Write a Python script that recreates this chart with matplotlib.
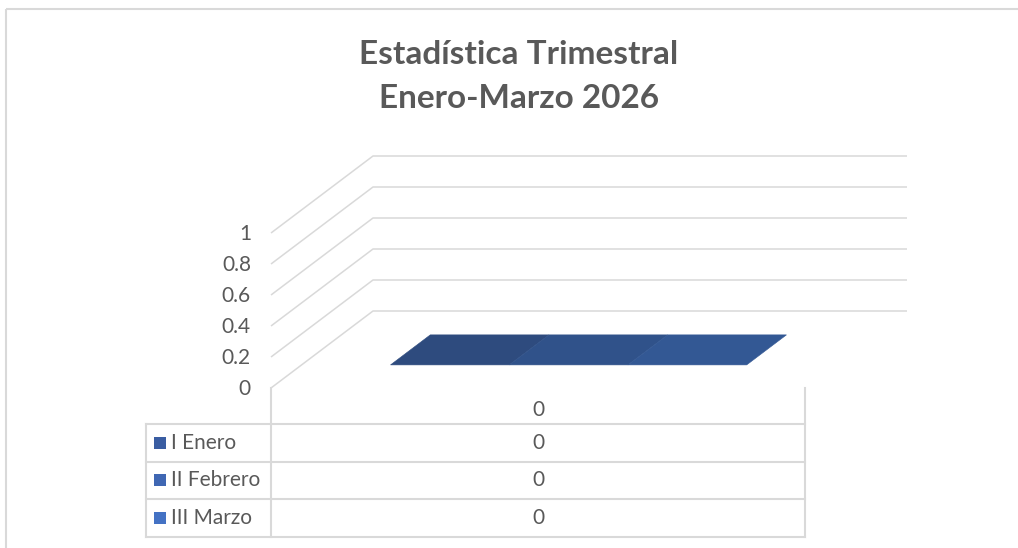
import matplotlib.pyplot as plt
from matplotlib.patches import Polygon, Rectangle

# datos
title_lines = ["Estadística Trimestral", "Enero-Marzo 2026"]
categories = ["0"]
series_names = ["I Enero", "II Febrero", "III Marzo"]
series_values = [0, 0, 0]
y_ticks = [0, 0.2, 0.4, 0.6, 0.8, 1]

key_colors = ["#3A5DA2", "#3F67B3", "#4472C4"]
face_colors = ["#2E4B7E", "#30528A", "#335894"]
grid_color = "#D9D9D9"
text_color = "#595959"

plt.rcParams['font.family'] = ['Lato', 'DejaVu Sans']

W, H = 1018, 548
fig = plt.figure(figsize=(W / 100, H / 100), dpi=100)
ax = fig.add_axes([0, 0, 1, 1])
ax.set_xlim(0, W)
ax.set_ylim(H, 0)
ax.axis('off')

# geometria del grafico 3D (proyeccion oblicua, en pixeles)
FX0, FW = 271, 534        # borde frontal del suelo
FY0 = 388                 # altura del valor 0 en el frente
VY = 155 / max(y_ticks)   # pixeles por unidad
DX, DY = 102, 77          # desplazamiento de profundidad


def proj(u, v, d):
    return FX0 + u * FW + d * DX, FY0 - v * VY - d * DY


# marco del grafico
ax.add_patch(Rectangle((6, 9), W, H, fill=False, ec=grid_color, lw=1.5))

# titulo
ax.text(519, 54, title_lines[0], ha='center', va='center', fontsize=24,
        fontweight='bold', color=text_color)
ax.text(519, 98, title_lines[1], ha='center', va='center', fontsize=24,
        fontweight='bold', color=text_color)

# lineas de division (pared lateral y fondo)
for t in y_ticks:
    p0 = proj(0, t, 0)
    p1 = proj(0, t, 1)
    p2 = proj(1, t, 1)
    ax.plot([p0[0], p1[0], p2[0]], [p0[1], p1[1], p2[1]], color=grid_color,
            lw=1.1, solid_capstyle='butt')
    ax.text(p0[0] - 20, p0[1] + 1, f"{t:g}", ha='right', va='center',
            fontsize=15, color=text_color)

# columnas 3D
n = len(series_names)
cluster = 0.667
bw = cluster / n
d0, d1 = 0.30, 0.69
for ci, cat in enumerate(categories):
    start = (ci + 0.5) / len(categories) - cluster / 2
    for i in range(n):
        v = series_values[i]
        u0 = start + i * bw
        u1 = u0 + bw
        front = [proj(u0, 0, d0), proj(u1, 0, d0), proj(u1, v, d0), proj(u0, v, d0)]
        side = [proj(u1, 0, d0), proj(u1, 0, d1), proj(u1, v, d1), proj(u1, v, d0)]
        top = [proj(u0, v, d0), proj(u1, v, d0), proj(u1, v, d1), proj(u0, v, d1)]
        ax.add_patch(Polygon(front, closed=True, fc=key_colors[i], ec='none'))
        ax.add_patch(Polygon(side, closed=True, fc=face_colors[i], ec='none'))
        ax.add_patch(Polygon(top, closed=True, fc=face_colors[i],
                             ec=face_colors[i], lw=0.4))

# tabla de datos
tab_left = 146
tab_mid = FX0
tab_right = FX0 + FW
row_h = 37.5
head_bottom = 424
rows_y = [head_bottom + k * row_h for k in range(n + 1)]
for y in rows_y:
    ax.plot([tab_left, tab_right], [y, y], color=grid_color, lw=1.5)
ax.plot([tab_left, tab_left], [rows_y[0], rows_y[-1]], color=grid_color, lw=1.5)
ax.plot([tab_mid, tab_mid], [FY0, rows_y[-1]], color=grid_color, lw=1.5)
ax.plot([tab_right, tab_right], [FY0, rows_y[-1]], color=grid_color, lw=1.5)

cx = (tab_mid + tab_right) / 2
ax.text(cx, 410, categories[0], ha='center', va='center', fontsize=15,
        color=text_color)
for i, name in enumerate(series_names):
    yc = rows_y[i] + row_h / 2
    ax.add_patch(Rectangle((154, yc - 6), 12, 12, fc=key_colors[i], ec='none'))
    ax.text(171, yc, name, ha='left', va='center', fontsize=15, color=text_color)
    ax.text(cx, yc, f"{series_values[i]:g}", ha='center', va='center',
            fontsize=15, color=text_color)

fig.savefig("out.png", dpi=100)
